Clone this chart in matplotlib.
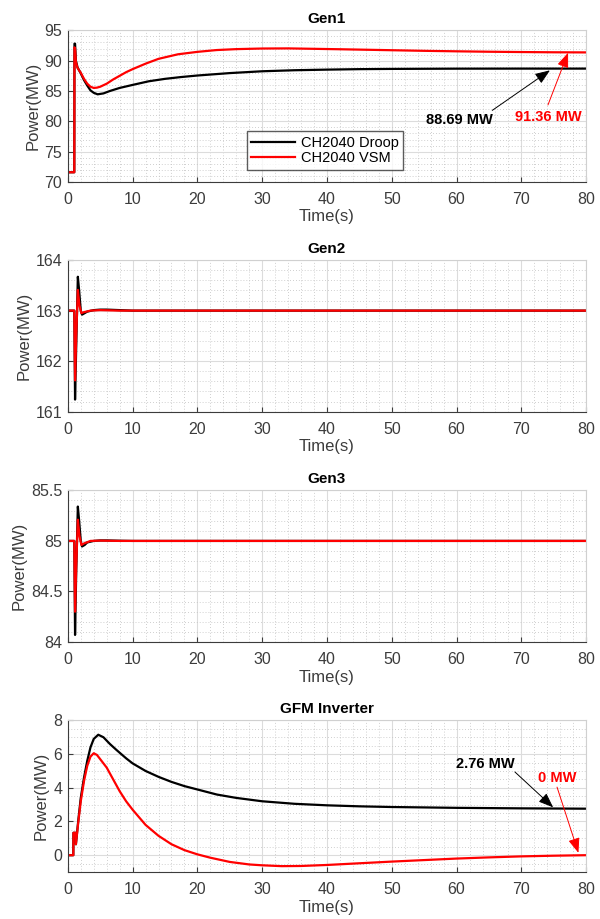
import numpy as np
import matplotlib
matplotlib.use('Agg')
import matplotlib.pyplot as plt
from matplotlib.ticker import MultipleLocator, FormatStrFormatter

plt.rcParams['font.family'] = ['Liberation Sans', 'DejaVu Sans']

# ---- Gen1 ----
g1_t_droop = [0, 1.0, 1.03, 1.12, 1.25, 1.5, 2.0, 2.5, 3.0, 3.5, 4.0, 4.6, 5.5, 6.5, 8,
              10, 12.5, 15, 17.5, 20, 25, 30, 35, 40, 45, 50, 60, 70, 80]
g1_p_droop = [71.6, 71.6, 92.8, 92.8, 90.0, 88.9, 87.9, 86.8, 85.9, 85.1, 84.7, 84.45, 84.6, 85.0, 85.5,
              86.0, 86.6, 87.0, 87.3, 87.55, 87.95, 88.25, 88.42, 88.52, 88.6, 88.64, 88.68, 88.69, 88.69]
g1_t_vsm = [0, 1.0, 1.03, 1.12, 1.25, 1.5, 2.0, 2.5, 3.0, 3.5, 4.0, 4.5, 5, 6, 7, 8, 9,
            10, 12, 14, 17, 20, 23, 26, 30, 34, 38, 42, 46, 50, 55, 60, 65, 70, 75, 80]
g1_p_vsm = [71.6, 71.6, 92.2, 92.0, 89.8, 88.8, 88.0, 87.0, 86.2, 85.7, 85.5, 85.55, 85.7, 86.2, 86.9, 87.5, 88.1,
            88.6, 89.5, 90.3, 91.05, 91.45, 91.75, 91.9, 92.0, 92.02, 91.95, 91.88, 91.8, 91.72, 91.62, 91.54, 91.47,
            91.42, 91.38, 91.36]

# ---- Gen2 ----
g2_t_droop = [0, 1.0, 1.12, 1.3, 1.55, 1.75, 2.0, 2.2, 2.6, 3.0, 4.0, 5.0, 6.0, 8.0, 10, 80]
g2_p_droop = [163.0, 163.0, 161.24, 162.3, 163.67, 163.4, 163.0, 162.92, 162.95, 162.98, 163.01, 163.02, 163.02,
              163.01, 163.0, 163.0]
g2_t_vsm = [0, 1.0, 1.12, 1.3, 1.55, 1.8, 2.1, 2.5, 3.5, 5.0, 8.0, 80]
g2_p_vsm = [163.0, 163.0, 161.62, 162.5, 163.41, 163.1, 162.95, 162.97, 163.0, 163.01, 163.0, 163.0]

# ---- Gen3 ----
g3_t_droop = [0, 1.0, 1.12, 1.3, 1.55, 1.75, 2.0, 2.2, 2.6, 3.0, 4.0, 5.0, 6.0, 8.0, 10, 80]
g3_p_droop = [85.0, 85.0, 84.07, 84.7, 85.34, 85.2, 85.0, 84.945, 84.96, 84.985, 85.0, 85.005, 85.005,
              85.002, 85.0, 85.0]
g3_t_vsm = [0, 1.0, 1.12, 1.3, 1.55, 1.8, 2.1, 2.5, 3.5, 5.0, 8.0, 80]
g3_p_vsm = [85.0, 85.0, 84.3, 84.75, 85.21, 85.05, 84.96, 84.975, 85.0, 85.003, 85.0, 85.0]

# ---- GFM inverter ----
gfm_t_droop = [0, 0.85, 0.87, 1.2, 1.25, 1.6, 2.0, 2.5, 3.0, 3.5, 4.0, 4.7, 5.5, 6.5, 7.5, 9,
               10, 12, 14, 16, 18, 20, 23, 26, 30, 35, 40, 45, 50, 60, 70, 80]
gfm_p_droop = [0, 0, 1.33, 1.33, 0.65, 2.0, 3.4, 4.6, 5.6, 6.4, 6.9, 7.15, 7.0, 6.6, 6.25, 5.75,
               5.45, 5.0, 4.65, 4.35, 4.1, 3.9, 3.6, 3.4, 3.2, 3.05, 2.96, 2.9, 2.86, 2.81, 2.78, 2.76]
gfm_t_vsm = [0, 0.85, 0.87, 1.2, 1.25, 1.6, 2.0, 2.5, 3.0, 3.5, 4.0, 4.5, 5, 6, 7, 8, 9,
             10, 12, 14, 16, 18, 20, 22, 25, 28, 30, 33, 36, 40, 45, 50, 55, 60, 65, 70, 75, 80]
gfm_p_vsm = [0, 0, 1.33, 1.33, 0.65, 1.9, 3.2, 4.4, 5.3, 5.85, 6.05, 5.95, 5.7, 5.2, 4.5, 3.8, 3.2,
             2.7, 1.8, 1.15, 0.65, 0.3, 0.05, -0.15, -0.4, -0.55, -0.6, -0.65, -0.64, -0.58, -0.48, -0.38,
             -0.29, -0.2, -0.13, -0.07, -0.03, 0.0]

panels = [
    ('Gen1', g1_t_droop, g1_p_droop, g1_t_vsm, g1_p_vsm, (70, 95), 5, 1),
    ('Gen2', g2_t_droop, g2_p_droop, g2_t_vsm, g2_p_vsm, (161, 164), 1, 0.2),
    ('Gen3', g3_t_droop, g3_p_droop, g3_t_vsm, g3_p_vsm, (84, 85.5), 0.5, 0.1),
    ('GFM Inverter', gfm_t_droop, gfm_p_droop, gfm_t_vsm, gfm_p_vsm, (-1, 8), 2, 0.5),
]

tick_col = '#3c3c3c'
fig = plt.figure(figsize=(6.0, 9.19), dpi=100)
bottoms = [0.802, 0.552, 0.3014, 0.0511]
axes = []
for (title, td, pd_, tv, pv, ylim, ymaj, ymin), b in zip(panels, bottoms):
    ax = fig.add_axes([0.113, b, 0.864, 0.165])
    ax.plot(td, pd_, color='black', lw=1.6, label='CH2040 Droop')
    ax.plot(tv, pv, color='red', lw=1.6, label='CH2040 VSM')
    ax.set_xlim(0, 80)
    ax.set_ylim(*ylim)
    ax.xaxis.set_major_locator(MultipleLocator(10))
    ax.xaxis.set_minor_locator(MultipleLocator(2))
    if title == 'GFM Inverter':
        ax.set_yticks([0, 2, 4, 6, 8])
    else:
        ax.yaxis.set_major_locator(MultipleLocator(ymaj))
    ax.yaxis.set_minor_locator(MultipleLocator(ymin))
    ax.yaxis.set_major_formatter(FormatStrFormatter('%g'))
    ax.grid(True, which='major', color='#dcdcdc', lw=0.8)
    ax.grid(True, which='minor', color='#c0c0c0', lw=0.6, linestyle=(0, (1, 2.5)))
    ax.set_axisbelow(True)
    ax.tick_params(which='both', direction='in', colors=tick_col, labelsize=11.5)
    ax.tick_params(which='major', length=3.5, top=False, right=False)
    ax.tick_params(axis='x', which='major', pad=7.5)
    ax.tick_params(axis='y', which='major', pad=4)
    ax.tick_params(which='minor', length=0)
    for s in ('left', 'bottom'):
        ax.spines[s].set_color('#3c3c3c')
        ax.spines[s].set_linewidth(0.8)
    for s in ('top', 'right'):
        ax.spines[s].set_color('#d0d0d0')
        ax.spines[s].set_linewidth(0.8)
    ax.set_title(title, fontsize=11, fontweight='bold', pad=5)
    ax.set_xlabel('Time(s)', fontsize=12, color=tick_col, labelpad=1.5)
    ax.set_ylabel('Power(MW)', fontsize=12, color=tick_col, labelpad=3)
    axes.append(ax)

ax1, ax2, ax3, ax4 = axes
ax1.legend(loc='lower left', bbox_to_anchor=(0.345, 0.082), fontsize=10.5, frameon=True,
           fancybox=False, edgecolor='#333333', handlelength=3.0, borderpad=0.3,
           labelspacing=0.1, handletextpad=0.4, borderaxespad=0)

arrow_k = dict(arrowstyle='-|>,head_length=0.9,head_width=0.35', color='black', lw=0.7,
               shrinkA=0, shrinkB=0)
arrow_r = dict(arrowstyle='-|>,head_length=0.9,head_width=0.35', color='red', lw=0.7,
               shrinkA=0, shrinkB=0)

# steady-state callouts
ax1.annotate('', xy=(74.4, 88.4), xytext=(65.5, 81.8), arrowprops=arrow_k)
ax1.text(60.5, 80.2, '88.69 MW', ha='center', va='center', fontsize=10.5, fontweight='bold', color='black')
ax1.annotate('', xy=(77.2, 91.3), xytext=(74.1, 82.7), arrowprops=arrow_r)
ax1.text(74.1, 80.7, '91.36 MW', ha='center', va='center', fontsize=10.5, fontweight='bold', color='red')

ax4.annotate('', xy=(74.9, 2.84), xytext=(69.0, 4.94), arrowprops=arrow_k)
ax4.text(64.4, 5.42, '2.76 MW', ha='center', va='center', fontsize=10.5, fontweight='bold', color='black')
ax4.annotate('', xy=(78.8, 0.14), xytext=(75.5, 4.04), arrowprops=arrow_r)
ax4.text(75.5, 4.58, '0 MW', ha='center', va='center', fontsize=10.5, fontweight='bold', color='red')

fig.savefig('out.png', dpi=100)
